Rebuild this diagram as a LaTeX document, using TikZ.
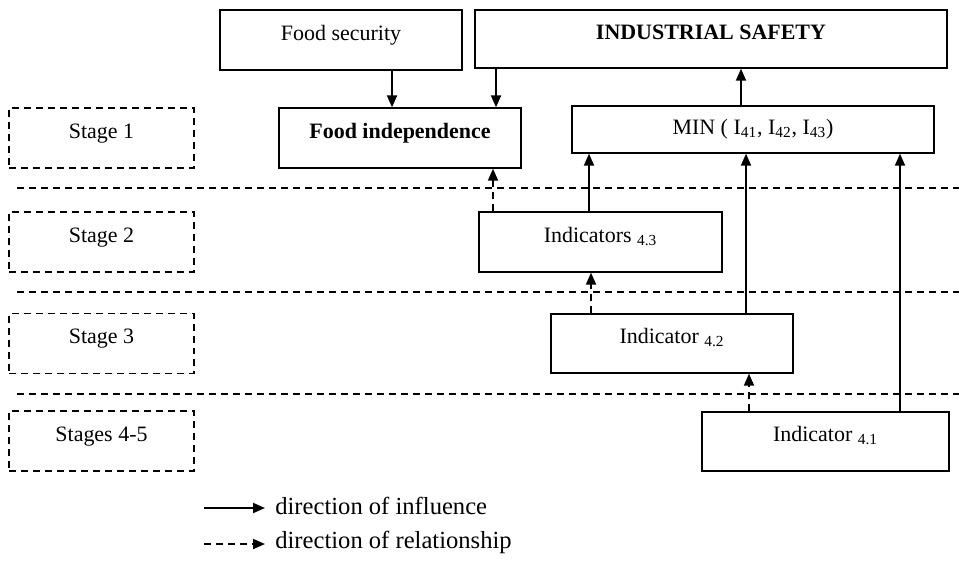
\documentclass[tikz,border=0pt]{standalone}
\usepackage{fontspec}
\setmainfont{Liberation Serif}
\usetikzlibrary{arrows.meta}
\tikzset{
  block/.style={draw, line width=0.8pt, minimum width=4.84cm, minimum height=1.2cm, text height=0.3cm, text depth=0.29cm, inner sep=0pt},
  stagebox/.style={block, dashed, dash pattern=on 0.14cm off 0.1cm, minimum width=3.7cm},
  infl/.style={line width=1.1pt, -{Triangle[length=0.24cm, width=0.2cm]}},
  relat/.style={infl, dash pattern=on 0.14cm off 0.1cm},
  levelline/.style={line width=0.8pt, dash pattern=on 0.14cm off 0.1cm},
  legendtext/.style={anchor=base west, inner sep=0pt, font=\fontsize{14pt}{17pt}\selectfont}
}

\begin{document}
\begin{tikzpicture}[x=0.02cm, y=-0.02cm, font=\fontsize{12.5pt}{15pt}\selectfont]
    \useasboundingbox (0,0) rectangle (959,561);

    % Nodes
    \node (fs) [block] at (341,40) {Food security};
    \node (ind) [block, minimum width=9.44cm, minimum height=1.16cm] at (711,39) {\textbf{INDUSTRIAL SAFETY}};
    \node (fi) [block] at (400,138) {\textbf{Food independence}};
    \node (mn) [block, minimum width=7.24cm, minimum height=0.94cm, text depth=0.1cm] at (753,129.5) {MIN ( I\textsubscript{41}, I\textsubscript{42}, I\textsubscript{43})};
    \node (i43) [block, minimum width=4.86cm] at (600.5,242) {Indicators \textsubscript{4.3}};
    \node (i42) [block, minimum height=1.18cm] at (672,343.5) {Indicator \textsubscript{4.2}};
    \node (i41) [block, minimum width=4.94cm, minimum height=1.18cm] at (825.5,441.5) {Indicator \textsubscript{4.1}};

    % Stages
    \node (st1) [stagebox] at (101.5,138) {Stage 1};
    \node (st2) [stagebox] at (101.5,242) {Stage 2};
    \node (st3) [stagebox] at (101.5,343.5) {Stage 3};
    \node (st45) [stagebox] at (101.5,441) {Stages 4-5};

    % Level lines
    \coordinate (l1w) at (17,188);  \coordinate (l1e) at (959,188);
    \coordinate (l2w) at (17,292);  \coordinate (l2e) at (959,292);
    \coordinate (l3w) at (17,394);  \coordinate (l3e) at (959,394);
    \draw [levelline] (l1w) -- (l1e);
    \draw [levelline] (l2w) -- (l2e);
    \draw [levelline] (l3w) -- (l3e);

    % Connectors
    \begin{scope}
        \draw [infl] (fs.south -| 392,0) -- (fi.north -| 392,0);
        \draw [infl] (ind.south -| 496,0) -- (fi.north -| 496,0);
        \draw [infl] (mn.north -| 741,0) -- (ind.south -| 741,0);
        \draw [infl] (i43.north -| 589,0) -- (mn.south -| 589,0);
        \draw [infl] (i42.north -| 746,0) -- (mn.south -| 746,0);
        \draw [infl] (i41.north -| 900,0) -- (mn.south -| 900,0);

        \draw [relat] (i43.north -| 493,0) -- (fi.south -| 493,0);
        \draw [relat] (i42.north -| 591,0) -- (i43.south -| 591,0);
        \draw [relat] (i41.north -| 749,0) -- (i42.south -| 749,0);
    \end{scope}

    % Legend
    \coordinate (lg1a) at (204,508); \coordinate (lg1b) at (265,508);
    \coordinate (lg2a) at (204,544); \coordinate (lg2b) at (265,544);
    \draw [infl] (lg1a) -- (lg1b);
    \draw [relat] (lg2a) -- (lg2b);
    \node (lgt1) [legendtext] at (275,514) {direction of influence};
    \node (lgt2) [legendtext] at (275,548) {direction of relationship};

\end{tikzpicture}
\end{document}
